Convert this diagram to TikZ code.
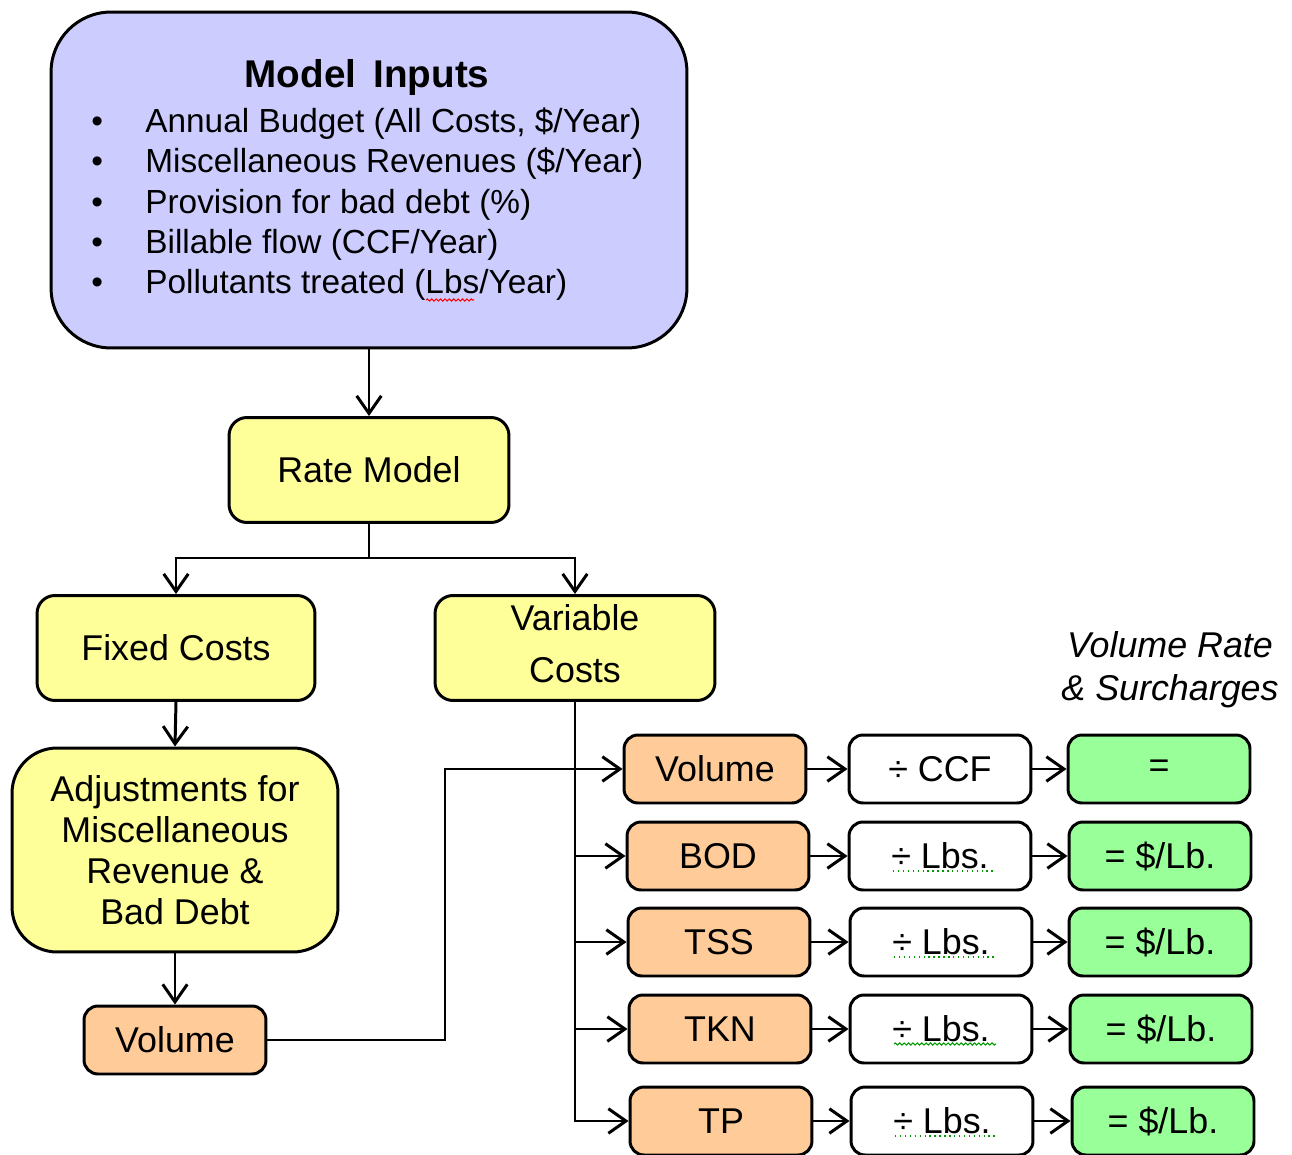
\documentclass[tikz,border=0pt]{standalone}
\usepackage{fontspec}
\setmainfont{Liberation Sans}
\usetikzlibrary{arrows.meta,decorations.pathmorphing,calc}
\definecolor{lav}{HTML}{CCCCFF}
\definecolor{yel}{HTML}{FFFF99}
\definecolor{org}{HTML}{FFCC99}
\definecolor{grn}{HTML}{99FF99}
\begin{document}
\begin{tikzpicture}[x=0.02cm,y=-0.02cm,
  box/.style={draw=black,line width=1.7pt,align=center,inner sep=0pt,
    font=\fontsize{20.4}{23.3}\selectfont},
  ybox/.style={box,fill=yel,rounded corners=0.36cm,minimum width=5.6cm,minimum height=2.1cm},
  sbox/.style={box,rounded corners=0.28cm,minimum width=3.64cm,minimum height=1.36cm},
  obox/.style={sbox,fill=org},
  wbox/.style={sbox,fill=white},
  gbox/.style={sbox,fill=grn},
  conn/.style={line width=1.7pt},
  arr/.style={line width=1.7pt,-{Straight Barb[length=10pt,width=14pt,line width=1.7pt]}},
  spellg/.style={draw=green!60!black,line width=0.8pt,dotted},
  spellw/.style={line width=0.6pt,decorate,decoration={snake,amplitude=0.6pt,segment length=2.5pt}}
]
\useasboundingbox (0,0) rectangle (1292,1155);
\clip (0,0) rectangle (1292,1155);

% Model inputs
\node[box,fill=lav,rounded corners=1.2cm,minimum width=12.72cm,minimum height=6.72cm] (inputs) at (369,180) {};
\node[font=\fontsize{22}{26}\selectfont\bfseries,inner sep=0pt] (title) at (367,78) {Model\ \,Inputs};
\node[anchor=west,inner sep=0pt,font=\fontsize{19}{22.9}\selectfont] (list) at (91,205) {%
  \begin{tabular}{@{}p{1.08cm}@{}l@{}}
  • & Annual Budget (All Costs, \$/Year)\\
  • & Miscellaneous Revenues (\$/Year)\\
  • & Provision for bad debt (\%)\\
  • & Billable flow (CCF/Year)\\
  • & Pollutants treated (Lbs/Year)
  \end{tabular}};
\draw[spellw,draw=red] (426,300) -- (474,300);

% Rate model and cost split
\node[ybox] (rate) at (369,470) {Rate Model};
\node[ybox,minimum width=5.56cm] (fixed) at (176,648) {Fixed Costs};
\node[ybox] (variable) at (575,648) {Variable\\[6pt]Costs\\[-18pt]\mbox{}};
\node[box,fill=yel,rounded corners=0.9cm,minimum width=6.52cm,minimum height=4.08cm] (adjust) at (175,850)
  {Adjustments for\\Miscellaneous\\Revenue \&\\Bad Debt};
\node[obox] (volL) at (175,1040) {Volume};

\coordinate (split) at (369,558);
\coordinate (jog) at (445,900);

\draw[arr] (inputs.south) -- (rate.north);
\draw[conn] (rate.south) -- (split);
\draw[arr] (split) -| (fixed.north);
\draw[arr] (split) -| (variable.north);
\draw[arr] (fixed.south) -- (adjust.north);
\draw[arr] (adjust.south) -- (volL.north);

% Right-hand rows
\node[obox] (o-vol) at (715,769) {Volume};
\node[wbox] (w-vol) at (940,769) {÷ CCF};
\node[gbox] (g-vol) at (1159,769) {=};

\node[obox] (o-bod) at (718,856) {BOD};
\node[wbox] (w-bod) at (940,856) {÷ Lbs.};
\node[gbox] (g-bod) at (1160,856) {= \$/Lb.};

\node[obox] (o-tss) at (719,942) {TSS};
\node[wbox] (w-tss) at (941,942) {÷ Lbs.};
\node[gbox] (g-tss) at (1160,942) {= \$/Lb.};

\node[obox] (o-tkn) at (720,1029) {TKN};
\node[wbox] (w-tkn) at (941,1029) {÷ Lbs.};
\node[gbox] (g-tkn) at (1161,1029) {= \$/Lb.};

\node[obox] (o-tp) at (721,1121) {TP};
\node[wbox] (w-tp) at (942,1121) {÷ Lbs.};
\node[gbox] (g-tp) at (1163,1121) {= \$/Lb.};

\node[align=center,inner sep=0pt,font=\fontsize{20.4}{24.4}\itshape] (vrlabel) at (1170,670) {Volume Rate\\\& Surcharges};

% connectors
\draw[arr] (volL.east) -| (jog) |- (o-vol.west);
\draw[arr] (variable.south) |- (o-tp.west);
\draw[arr] (variable.south |- o-bod.west) -- (o-bod.west);
\draw[arr] (variable.south |- o-tss.west) -- (o-tss.west);
\draw[arr] (variable.south |- o-tkn.west) -- (o-tkn.west);

\foreach \r in {vol,bod,tss,tkn,tp}{
  \draw[arr] (o-\r.east) -- (w-\r.west);
  \draw[arr] (w-\r.east) -- (g-\r.west);
}

% spell-check marks
\draw[spellg] ($(w-bod.center)+(-47,15)$) -- ($(w-bod.center)+(55,15)$);
\draw[spellg] ($(w-tss.center)+(-47,15)$) -- ($(w-tss.center)+(55,15)$);
\draw[spellw,draw=green!60!black] ($(w-tkn.center)+(-47,15)$) -- ($(w-tkn.center)+(55,15)$);
\draw[spellg] ($(w-tp.center)+(-47,15)$) -- ($(w-tp.center)+(55,15)$);
\end{tikzpicture}
\end{document}
